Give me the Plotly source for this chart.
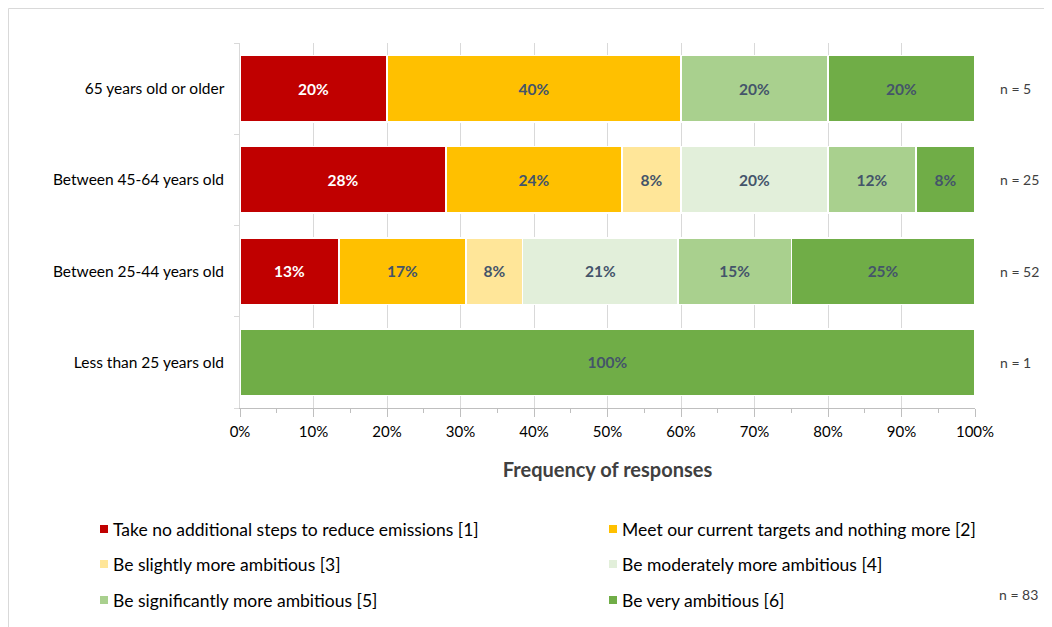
import plotly.graph_objects as go

categories = ["Less than 25 years old", "Between 25-44 years old", "Between 45-64 years old", "65 years old or older"]
n_labels = ["n = 1", "n = 52", "n = 25", "n = 5"]
series_names = [
    "Take no additional steps to reduce emissions [1]",
    "Meet our current targets and nothing more [2]",
    "Be slightly more ambitious [3]",
    "Be moderately more ambitious [4]",
    "Be significantly more ambitious [5]",
    "Be very ambitious [6]",
]
# response counts per category (order matches categories)
counts = [
    [0, 7, 7, 1],
    [0, 9, 6, 2],
    [0, 4, 2, 0],
    [0, 11, 5, 0],
    [0, 8, 3, 1],
    [1, 13, 2, 1],
]
totals = [1, 52, 25, 5]
colors = ["#C00000", "#FFC000", "#FFE699", "#E2EFDA", "#A9D08E", "#70AD47"]
text_colors = ["white", "#44546A", "#44546A", "#44546A", "#44546A", "#44546A"]
total_label = "n = 83"

FONT = "Lato"
OFF = 8  # page body margin
W, H = 1052, 627
L, T = 240 - OFF, 43 - OFF
R = W - (975 - OFF)
B = H - (408 - OFF)
PW, PH = W - L - R, H - T - B


def px2x(px):
    return (px - OFF - L) / PW


def py2y(py):
    return (H - B - (py - OFF)) / PH


fig = go.Figure()
for name, cnt, col, tcol in zip(series_names, counts, colors, text_colors):
    pct = [c / t * 100 for c, t in zip(cnt, totals)]
    txt = [f"{p:.0f}%" if p > 0 else "" for p in pct]
    fig.add_trace(go.Bar(
        y=categories, x=pct, name=name, orientation="h",
        marker=dict(color=col, line=dict(color="white", width=1.5)),
        text=txt, textposition="inside", insidetextanchor="middle",
        textfont=dict(color=tcol, size=15.5, family=FONT, weight="bold"),
        hoverinfo="skip", showlegend=False,
    ))

for cat, lab in zip(categories, n_labels):
    fig.add_annotation(x=1.0, xref="paper", xanchor="left", xshift=23, y=cat, yref="y",
                       text=lab, showarrow=False, font=dict(size=14, color="#404040", family=FONT))
fig.add_annotation(x=px2x(997), xref="paper", xanchor="left", y=py2y(605), yref="paper",
                   text=total_label, showarrow=False, font=dict(size=14, color="#404040", family=FONT))

# manual two-column legend
leg_cols = [100, 609]
leg_rows = [529, 564, 600]
for i, (name, col) in enumerate(zip(series_names, colors)):
    cx = leg_cols[i % 2]
    cy = leg_rows[i // 2]
    fig.add_shape(type="rect", xref="paper", yref="paper",
                  x0=px2x(cx), x1=px2x(cx + 8), y0=py2y(cy + 4), y1=py2y(cy - 4),
                  line=dict(width=0), fillcolor=col)
    fig.add_annotation(x=px2x(cx + 11), xref="paper", xanchor="left", y=py2y(cy), yref="paper",
                       yanchor="middle", text=name, showarrow=False,
                       font=dict(size=17.5, color="#000000", family=FONT))

fig.add_shape(type="rect", xref="paper", yref="paper", x0=px2x(8.5), x1=px2x(1075), y0=py2y(650), y1=py2y(8.5),
              line=dict(color="#D9D9D9", width=1), fillcolor="rgba(0,0,0,0)", layer="below")

fig.update_layout(
    barmode="stack", bargap=0.27,
    width=W, height=H,
    margin=dict(l=L, r=R, t=T, b=B, autoexpand=False),
    paper_bgcolor="white", plot_bgcolor="white",
    font=dict(family=FONT, size=15, color="#000000"),
    showlegend=False,
    xaxis=dict(range=[0, 100], dtick=10, ticksuffix="%", showgrid=True, gridcolor="#D9D9D9",
               showline=True, linecolor="#BFBFBF", ticks="outside", tickcolor="#BFBFBF", ticklen=8,
               ticklabelstandoff=2,
               minor=dict(dtick=5, ticks="outside", ticklen=4, tickcolor="#BFBFBF"),
               tickfont=dict(size=15, family=FONT, color="#000000"), zeroline=False, automargin=False,
               title=dict(text="<b>Frequency of responses</b>", font=dict(size=20, family=FONT, color="#404040"), standoff=23)),
    yaxis=dict(showline=True, linecolor="#D9D9D9", ticks="outside", tickson="boundaries",
               tickcolor="#D9D9D9", ticklen=5, tickfont=dict(size=15.5, family=FONT, color="#000000"),
               ticksuffix="   ", categoryorder="array", categoryarray=categories, automargin=False),
)

fig.write_html("out.html")
